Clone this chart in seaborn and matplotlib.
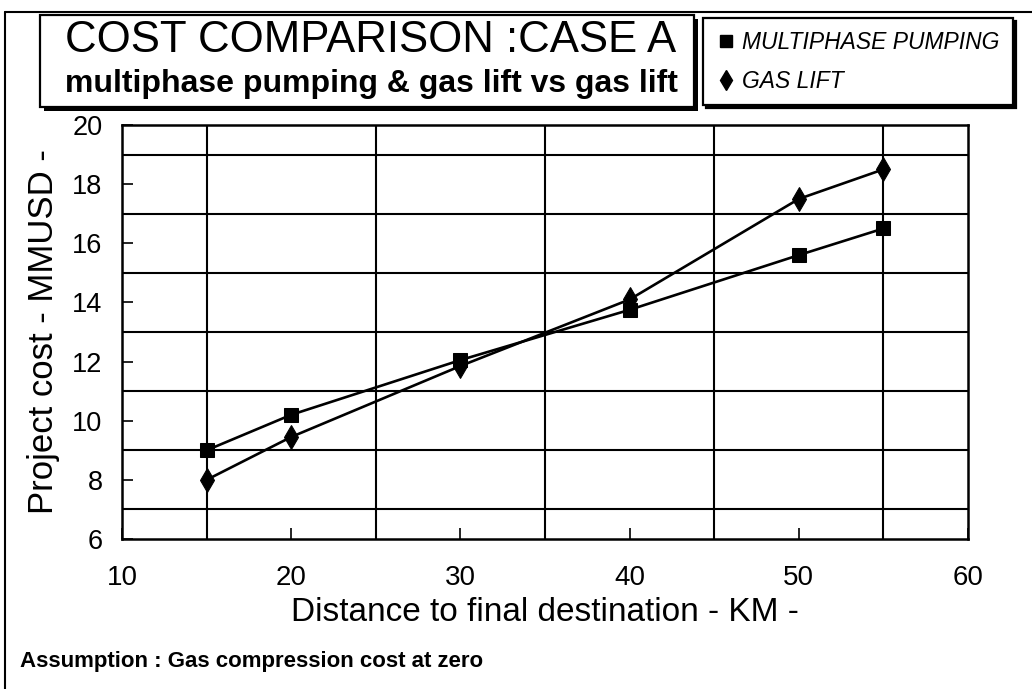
import matplotlib

matplotlib.use("Agg")
import matplotlib.pyplot as plt
import matplotlib.patches as mpatches
from matplotlib.lines import Line2D
from matplotlib.ticker import MultipleLocator
import pandas as pd
import seaborn as sns

# data
distance_km = [15, 20, 30, 40, 50, 55]
multiphase_pumping = [9.0, 10.2, 12.05, 13.75, 15.6, 16.5]
gas_lift = [8.0, 9.45, 11.85, 14.1, 17.5, 18.5]
series_names = ["MULTIPHASE PUMPING", "GAS LIFT"]

title = "COST COMPARISON :CASE A"
subtitle = "multiphase pumping & gas lift vs gas lift"
x_label = "Distance to final destination - KM -"
y_label = "Project cost - MMUSD -"
note = "Assumption : Gas compression cost at zero"

df = pd.DataFrame(
    {
        "distance": distance_km * 2,
        "cost": multiphase_pumping + gas_lift,
        "series": [series_names[0]] * len(distance_km) + [series_names[1]] * len(distance_km),
    }
)

sns.set_theme(style="white")
plt.rcParams["font.family"] = ["Liberation Sans", "DejaVu Sans"]
plt.rcParams.update({"text.color": "black", "axes.labelcolor": "black",
                     "xtick.color": "black", "ytick.color": "black"})

W, H = 1032, 689
fig = plt.figure(figsize=(W / 100, H / 100), dpi=100)
ax = fig.add_axes([122 / W, 1 - 539 / H, (968 - 122) / W, (539 - 125) / H])

sns.lineplot(
    data=df,
    x="distance",
    y="cost",
    hue="series",
    style="series",
    markers={series_names[0]: "s", series_names[1]: "D"},
    dashes=False,
    palette={series_names[0]: "black", series_names[1]: "black"},
    markersize=10,
    linewidth=1.9,
    markeredgecolor="black",
    ax=ax,
    legend=False,
)
# diamond a bit narrower than the square
for line in ax.lines:
    if line.get_marker() == "D":
        line.set_marker("d")
        line.set_markersize(12)

ax.set_xlim(10, 60)
ax.set_ylim(6, 20)
ax.xaxis.set_major_locator(MultipleLocator(10))
ax.yaxis.set_major_locator(MultipleLocator(2))
ax.set_xticks([15, 25, 35, 45, 55], minor=True)
ax.set_yticks([7, 9, 11, 13, 15, 17, 19], minor=True)
ax.grid(which="minor", color="black", linewidth=1.5)
ax.grid(which="major", visible=False)
ax.tick_params(axis="x", which="major", pad=19, labelsize=20)
ax.tick_params(axis="y", which="major", pad=14, labelsize=19.5)
ax.tick_params(which="major", direction="in", length=8, width=1.2, color="black",
               left=True, bottom=True)
ax.tick_params(which="minor", length=0)
for s in ax.spines.values():
    s.set_color("black")
    s.set_linewidth(1.8)

ax.set_xlabel(x_label, fontsize=24, labelpad=4)
ax.set_ylabel(y_label, fontsize=25, labelpad=9)

# title box with drop shadow
tx0, ty0, tx1, ty1 = 40, 15, 694, 107
shadow = mpatches.Rectangle(((tx0 + 4) / W, 1 - (ty1 + 4) / H), (tx1 - tx0) / W, (ty1 - ty0) / H,
                            transform=fig.transFigure, facecolor="black", edgecolor="none")
box = mpatches.Rectangle((tx0 / W, 1 - ty1 / H), (tx1 - tx0) / W, (ty1 - ty0) / H,
                         transform=fig.transFigure, facecolor="white", edgecolor="black", linewidth=1.6)
fig.patches.extend([shadow, box])
fig.text(371 / W, 1 - 40 / H, title, ha="center", va="center", fontsize=31.5)
fig.text(371 / W, 1 - 84 / H, subtitle, ha="center", va="center",
         fontsize=23, fontweight="bold")

# legend box
handles = [
    Line2D([], [], color="black", marker="s", linestyle="none", markersize=8),
    Line2D([], [], color="black", marker="d", linestyle="none", markersize=10),
]
leg = fig.legend(
    handles,
    series_names,
    loc="upper left",
    bbox_to_anchor=(703 / W, 1 - 107 / H, 310 / W, 89 / H),
    mode="expand",
    frameon=True,
    fancybox=False,
    shadow={"color": "black", "alpha": 1},
    edgecolor="black",
    prop={"style": "italic", "size": 16.5},
    handletextpad=0.25,
    handlelength=0.9,
    labelspacing=0.7,
    borderpad=0.55,
    borderaxespad=0,
)
leg.get_frame().set_linewidth(1.6)

fig.text(20 / W, 1 - 661 / H, note, ha="left", va="center", fontsize=16, fontweight="bold")

# scanned page border
fig.add_artist(Line2D([5 / W, 5 / W], [0, 1 - 12 / H], color="black", linewidth=1.5,
                      transform=fig.transFigure))
fig.add_artist(Line2D([5 / W, 1], [1 - 12 / H, 1 - 12 / H], color="black", linewidth=1.5,
                      transform=fig.transFigure))

fig.savefig("out.png", dpi=100, facecolor="white")
